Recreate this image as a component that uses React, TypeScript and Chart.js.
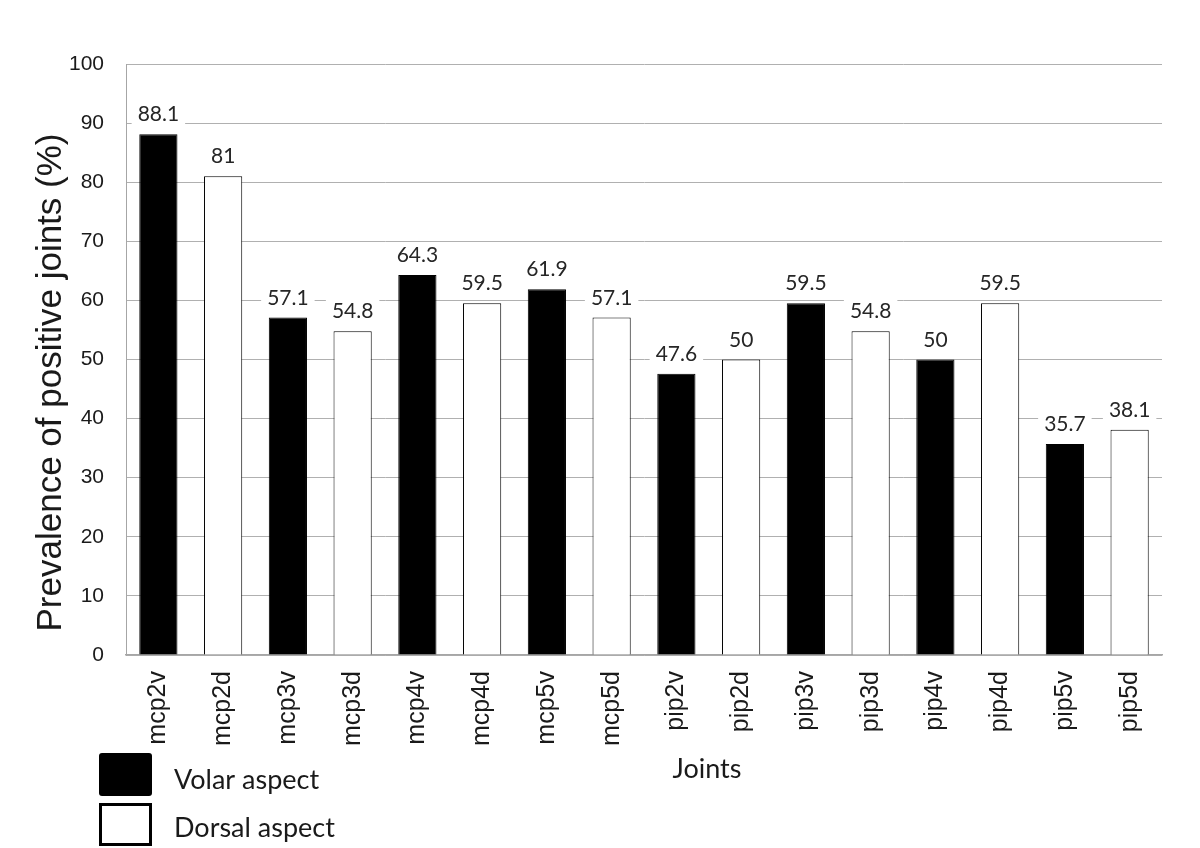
import React, { useEffect, useRef } from "react";
import { Chart, registerables } from "chart.js";

Chart.register(...registerables);

const categories = [
  "mcp2v", "mcp2d", "mcp3v", "mcp3d", "mcp4v", "mcp4d", "mcp5v", "mcp5d",
  "pip2v", "pip2d", "pip3v", "pip3d", "pip4v", "pip4d", "pip5v", "pip5d",
];
const prevalence = [88.1, 81, 57.1, 54.8, 64.3, 59.5, 61.9, 57.1, 47.6, 50, 59.5, 54.8, 50, 59.5, 35.7, 38.1];
const legendLabels = ["Volar aspect", "Dorsal aspect"];
const yTitle = "Prevalence of positive joints (%)";
const xTitle = "Joints";
const yMin = 0;
const yMax = 100;
const yStep = 10;

const VOLAR = "#000000";
const DORSAL = "#ffffff";
const AXIS_FONT = "'Liberation Sans', Arial, sans-serif";
const LABEL_FONT = "Lato, 'Open Sans', sans-serif";

const isVolar = (c: string) => c.endsWith("v");

const extrasPlugin = {
  id: "extras",
  afterDatasetsDraw(chart: any) {
    const ctx = chart.ctx;
    const meta = chart.getDatasetMeta(0);
    ctx.save();
    ctx.font = `21px ${LABEL_FONT}`;
    ctx.textAlign = "center";
    ctx.textBaseline = "alphabetic";
    meta.data.forEach((bar: any, i: number) => {
      const text = String(prevalence[i]);
      const w = ctx.measureText(text).width;
      const baseline = bar.y - 13;
      ctx.fillStyle = "#ffffff";
      ctx.fillRect(bar.x - w / 2 - 6, baseline - 19, w + 12, 22);
      ctx.fillStyle = "#262626";
      ctx.fillText(text, bar.x, baseline);
    });
    ctx.restore();
  },
  afterDraw(chart: any) {
    const ctx = chart.ctx;
    const area = chart.chartArea;
    ctx.save();
    // y-axis title
    ctx.fillStyle = "#1a1a1a";
    ctx.font = `35px ${AXIS_FONT}`;
    ctx.textAlign = "center";
    ctx.textBaseline = "middle";
    ctx.translate(51, (area.top + area.bottom) / 2 + 23);
    ctx.rotate(-Math.PI / 2);
    ctx.fillText(yTitle, 0, 0);
    ctx.setTransform(1, 0, 0, 1, 0, 0);

    // x-axis title
    ctx.font = `27px ${LABEL_FONT}`;
    ctx.textAlign = "center";
    ctx.textBaseline = "middle";
    ctx.fillText(xTitle, (area.left + area.right) / 2 + 63, 769);

    // legend
    ctx.fillStyle = VOLAR;
    ctx.beginPath();
    (ctx as any).roundRect ? (ctx as any).roundRect(99, 753, 53, 43, 3) : ctx.rect(99, 753, 53, 43);
    ctx.fill();
    ctx.fillStyle = DORSAL;
    ctx.strokeStyle = "#000000";
    ctx.lineWidth = 3;
    ctx.beginPath();
    ctx.rect(100.5, 804.5, 50, 40);
    ctx.fill();
    ctx.stroke();

    ctx.fillStyle = "#1a1a1a";
    ctx.font = `27px ${LABEL_FONT}`;
    ctx.textAlign = "left";
    ctx.textBaseline = "middle";
    ctx.fillText(legendLabels[0], 174, 780);
    ctx.fillText(legendLabels[1], 174, 828);
    ctx.restore();
  },
};

export default function App() {
  const canvasRef = useRef<HTMLCanvasElement | null>(null);

  useEffect(() => {
    if (!canvasRef.current) return;
    const chart = new Chart(canvasRef.current, {
      type: "bar",
      data: {
        labels: categories,
        datasets: [
          {
            label: "Prevalence",
            data: prevalence,
            backgroundColor: categories.map((c) => (isVolar(c) ? VOLAR : DORSAL)),
            borderColor: "#000000",
            borderWidth: 1,
            barPercentage: 0.59,
            categoryPercentage: 1,
          },
        ],
      },
      options: {
        responsive: false,
        animation: false,
        devicePixelRatio: 1,
        layout: { padding: { top: 64, right: 38, left: 0, bottom: 0 } },
        plugins: {
          legend: { display: false },
          tooltip: { enabled: false },
          title: { display: false },
        },
        scales: {
          x: {
            grid: { display: true, drawOnChartArea: false, drawTicks: false },
            border: { display: true, color: "#a6a6a6", width: 1.5 },
            ticks: {
              color: "#1a1a1a",
              font: { family: AXIS_FONT, size: 25 },
              minRotation: 90,
              maxRotation: 90,
              padding: 16,
              autoSkip: false,
            },
            afterFit: (scale: any) => {
              scale.height = 193;
            },
          },
          y: {
            min: yMin,
            max: yMax,
            grid: { color: "#b0b0b0", lineWidth: 1, drawTicks: false },
            border: { display: true, color: "#a6a6a6", width: 1 },
            ticks: {
              stepSize: yStep,
              color: "#1a1a1a",
              font: { family: AXIS_FONT, size: 21 },
              padding: 22,
            },
            afterFit: (scale: any) => {
              scale.width = 126;
            },
          },
        },
      },
      plugins: [extrasPlugin],
    });
    return () => chart.destroy();
  }, []);

  return (
    <div style={{ position: "absolute", left: 0, top: 0, width: 1200, height: 848, background: "#fff" }}>
      <canvas ref={canvasRef} width={1200} height={848} />
    </div>
  );
}
